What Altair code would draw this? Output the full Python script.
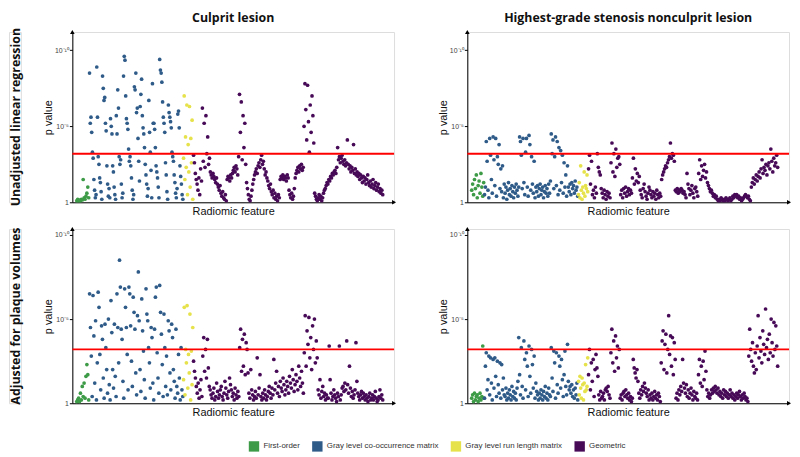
import altair as alt
import pandas as pd

CATS = ["First-order", "Gray level co-occurrence matrix",
        "Gray level run length matrix", "Geometric"]
COLORS = ["#3d9b47", "#2f5b89", "#e6e24b", "#470a57"]
# feature-index span of each category (shared by all panels)
SPANS = [(0, 13), (13, 108), (108, 118), (118, 310)]
THRESHOLD = 3.2          # -log10(p) of the significance line
XMIN, XMAX = -4, 321

COL_TITLES = ["Culprit lesion", "Highest-grade stenosis nonculprit lesion"]
ROW_TITLES = ["Unadjusted linear regression", "Adjusted for plaque volumes"]
Y_TICKS = [0, 5, 10]

# ---------------- values: -log10(p) ----------------
# Culprit lesion, unadjusted
tl_first = [0.1, 0.2, 0.1, 0.15, 0.1, 0.2, 0.15, 1.5, 0.3, 0.2, 0.4, 0.6, 1.0, 0.3]
tl_glcm = [8.5, 5.2, 5.6, 4.6, 3.3, 2.9, 1.5, 0.8, 0.3, 0.5, 8.9,
           5.6, 3.0, 2.5, 1.6, 1.3, 0.7, 0.2, 8.3, 7.5, 6.7, 6.9, 5.2, 4.7, 2.4, 1.2, 0.4, 0.9, 0.3,
           5.5, 5.0, 4.5, 2.4, 2.0, 1.0, 0.5, 0.2, 5.7, 4.5, 7.4, 6.2, 3.0, 2.5, 2.8, 1.2, 0.3, 0.6,
           8.3, 9.6, 9.35, 7.0, 5.5, 5.2, 4.8, 3.5, 2.7, 3.0, 2.4, 1.6, 0.8, 0.2, 0.5, 7.6, 7.4, 8.5, 5.9, 6.2, 4.2, 2.7, 1.4,
           6.3, 7.1, 8.1, 5.7, 4.9, 4.5, 3.6, 2.5, 1.8, 1.2, 0.4, 0.9, 6.7, 4.6, 3.3, 2.1, 0.3, 7.8, 5.2,
           5.2, 4.8, 3.6, 2.4, 2.0, 1.6, 1.0, 0.3, 9.4, 8.7, 8.5, 7.9, 6.6, 5.6, 5.2, 4.6, 2.6, 1.8, 0.7, 0.2, 6.4,
           5.9, 5.6, 5.3, 4.9, 3.3, 3.0, 2.7, 1.8, 1.3, 0.6, 0.3, 0.9, 5.8, 6.0, 4.9, 2.4, 1.7, 1.2, 0.5, 0.2]
tl_glrlm = [2.9, 7.0, 1.5, 4.3, 2.3, 6.4, 0.5, 3.8, 2.0, 6.3, 1.0, 4.2, 2.6, 5.4, 0.2]
tl_geom = [3.1, 2.6, 1.9, 1.5, 1.2, 0.8, 1.6, 0.5, 2.2, 1.4,
           6.2, 2.7, 5.2, 2.3, 5.7, 3.2, 4.3, 2.5, 2.9,
           2.0, 1.8, 1.6, 1.9, 1.7, 1.5, 1.3, 1.6, 1.2, 1.0, 0.8, 1.1, 0.6, 0.4, 0.7, 0.3, 0.2, 0.5, 0.1,
           1.5, 1.7, 1.6, 1.4, 1.8, 1.6, 1.9, 2.1, 2.3, 2.0, 2.4, 2.2, 1.8,
           3.0, 7.1, 4.6, 6.6, 2.8, 5.7, 3.6, 5.2, 2.5,
           1.3, 0.9, 0.5, 0.2, 0.1, 0.4, 0.8, 1.2, 1.5, 1.8,
           2.0, 2.2, 1.9, 2.4, 2.6, 2.3, 2.8, 3.1, 2.5, 2.7, 2.2, 1.8, 2.0, 1.6,
           1.4, 1.1, 0.9, 1.2, 0.7, 0.5, 0.8, 0.3, 0.6, 0.2, 0.4, 0.1, 0.5, 0.3,
           1.5, 1.7, 1.6, 1.8, 1.5, 1.7, 1.6, 1.4, 1.8, 1.6,
           0.8, 0.5, 0.3, 0.6, 0.2, 0.4, 0.9,
           1.6, 1.9, 2.1, 2.3, 2.0, 2.4, 2.2, 2.5, 2.1, 2.3,
           5.0, 7.8, 6.1, 4.1, 7.7, 5.3, 3.3, 6.4, 4.6, 7.0, 5.7, 3.9,
           0.6, 0.4, 0.2, 0.1, 0.3, 0.5, 0.2, 0.4, 0.1, 0.3, 0.6, 0.8,
           0.9, 1.1, 1.3, 1.2, 1.5, 1.4, 1.7, 1.6, 1.9, 1.8, 2.0, 2.1, 1.9, 2.3,
           3.6, 2.8, 3.0, 2.6, 2.9, 3.1, 2.7, 2.5, 2.8, 2.4, 2.6,
           4.1, 2.5, 2.2, 2.4, 2.0, 2.3, 2.1, 3.8, 1.9, 2.2, 1.8,
           2.0, 1.7, 1.9, 1.5, 1.8, 1.6, 1.3, 1.7, 1.4, 1.6, 1.2, 1.5, 1.8, 1.3, 1.1,
           1.4, 1.0, 1.2, 1.5, 0.9, 1.1, 1.3, 0.8, 1.0, 1.2, 0.7, 0.9, 0.6, 0.8, 0.5]

# Nonculprit lesion, unadjusted
tr_first = [0.8, 1.2, 0.5, 1.5, 0.9, 1.8, 0.3, 1.1, 1.4, 0.6, 1.9, 1.0, 0.4, 1.3]
tr_glcm = [0.5, 1.0, 4.0, 2.7, 0.8, 0.3, 4.2, 3.1, 1.5, 0.6, 4.3, 2.8, 1.1, 4.2, 0.4, 3.0,
           2.5, 3.8, 0.9, 2.2, 0.7, 2.4, 0.3, 1.2, 0.6, 1.0, 0.2, 0.8, 1.3, 0.5, 0.9, 0.4, 1.1, 0.7,
           0.3, 1.0, 0.6, 1.2, 0.8, 0.4, 1.0,
           4.3, 4.0, 3.1, 0.9, 4.2, 1.3, 0.5, 3.3, 4.2, 1.0, 0.4, 4.4, 3.8, 0.8, 3.0, 1.2, 0.6, 2.7, 0.3, 1.0,
           0.7, 1.1, 0.4, 0.9, 1.2, 0.5, 0.8, 1.0, 0.3, 0.7, 1.1, 0.6, 0.9, 0.4, 1.2, 0.6, 1.4,
           4.5, 3.2, 4.1, 0.9, 3.0, 4.3, 1.1, 4.0, 0.5, 3.6, 0.8, 3.4, 1.3, 3.1, 0.6, 2.6, 1.0, 1.8, 0.4, 2.4,
           1.0, 0.7, 1.2, 0.5, 1.3, 0.9, 1.1, 0.6, 1.4, 0.8, 1.0, 0.4]
tr_glrlm = [0.5, 1.3, 0.3, 2.4, 0.8, 0.2, 1.0, 0.6, 2.0, 0.4, 1.1, 0.9, 1.8, 0.7]
tr_geom = [2.2, 3.1, 1.2, 2.7, 0.5, 0.8, 0.3, 1.0, 0.6,
           3.2, 2.3, 2.0, 1.8, 0.9, 0.6, 0.3, 0.8, 0.5, 0.2, 0.7, 0.4, 0.6, 0.3,
           2.6, 3.9, 2.0, 3.2, 1.7, 3.5, 2.3, 2.9, 3.0, 2.5,
           0.5, 0.8, 0.3, 0.9, 0.6, 1.0, 0.4, 0.7, 0.9, 0.5, 0.8, 0.6,
           1.6, 2.9, 1.2, 2.2, 1.4, 1.9, 1.3, 1.7,
           0.8, 0.5, 0.3, 0.9, 1.2, 0.7, 0.4, 0.2, 0.6, 1.0, 0.8, 0.5, 0.3, 0.7, 0.4, 0.6, 0.2, 0.8,
           0.5, 0.3, 0.6, 0.4,
           1.5, 1.8, 2.0, 2.2, 2.4, 2.3, 2.6, 2.8, 3.0, 3.9, 2.9, 3.2, 3.1, 2.7,
           0.8, 0.7, 0.9, 0.6, 0.8, 0.7, 0.9, 0.8, 0.6, 0.7, 0.5, 0.3,
           1.9, 1.2, 0.9, 0.5, 0.8, 1.1, 0.6, 0.3, 0.9, 1.0, 0.7, 0.4,
           1.9, 2.8, 1.5, 2.4, 1.7, 2.1, 2.5, 1.6, 2.0,
           1.3, 1.1, 0.9, 0.7, 0.8, 0.6, 0.4, 0.5, 0.3, 0.4, 0.2,
           0.1, 0.2, 0.1, 0.3, 0.2, 0.1, 0.2, 0.1, 0.3, 0.2, 0.1, 0.2, 0.3, 0.1, 0.2, 0.4, 0.3,
           0.5, 0.4, 0.5, 0.3, 0.4, 0.2, 0.3, 0.1, 0.2, 0.3, 0.4, 0.5, 0.4, 0.3, 0.4, 0.2, 0.1,
           1.0, 1.3, 1.6, 1.2, 1.5, 1.8, 1.4, 1.7, 2.0, 1.6, 2.2, 2.8, 1.9, 2.3, 2.1, 2.5,
           1.8, 2.4, 2.6, 2.2, 3.5, 2.7, 2.0, 2.9, 2.4, 2.6, 3.1, 2.3]

# Culprit lesion, adjusted
bl_first = [0.1, 0.2, 0.3, 0.1, 0.6, 0.2, 1.0, 0.4, 1.2, 0.3, 1.6, 2.3, 1.7, 0.2]
bl_glcm = [6.5, 4.5, 2.8, 0.4, 6.4, 4.0, 1.2, 4.9, 0.2, 2.4, 6.6, 5.7, 2.9, 0.8, 4.6, 3.8, 1.5, 0.3,
           4.7, 3.3, 2.0, 0.6, 5.0, 1.1, 0.2, 6.1, 4.2, 2.0, 0.9, 4.7, 1.6, 0.4, 6.5, 4.5, 2.4, 8.5,
           6.9, 4.4, 3.8, 1.3, 0.3, 6.8, 5.7, 4.5, 2.9, 0.8, 6.9, 6.5, 4.6, 2.5, 1.0, 6.3, 5.4, 4.4,
           1.8, 0.5,
           5.2, 7.8, 4.9, 2.0, 0.7, 6.2, 4.3, 3.1, 1.4, 0.3, 6.8, 5.3, 4.9, 3.3, 2.4, 0.9, 4.5, 3.9,
           1.2, 0.2,
           4.4, 6.3, 6.9, 3.0, 1.5, 0.6, 7.0, 5.4, 4.1, 2.3, 0.4, 5.3, 3.3, 1.0, 2.8, 0.5, 4.9, 4.3,
           1.8, 0.8,
           4.7, 3.9, 2.0, 1.3, 0.3, 4.4, 1.0, 0.6, 2.9, 1.5, 0.2, 3.3, 0.8, 0.4]
bl_glrlm = [1.4, 5.7, 0.5, 3.2, 2.4, 5.8, 0.9, 2.9, 1.8, 5.3, 0.2, 3.1, 1.1, 4.5]
bl_geom = [2.5, 1.9, 1.5, 1.0, 0.6, 1.2, 0.3, 0.8, 1.4, 0.4,
           2.8, 3.9, 1.9, 3.2, 1.5, 3.8, 2.1,
           1.0, 0.8, 0.5, 0.3, 0.6, 0.9, 0.2, 0.4, 1.2, 0.7, 0.3, 0.5, 0.8, 1.0, 0.4, 0.2, 0.6,
           1.3, 0.9, 0.5, 0.3, 0.7, 1.5, 1.1, 0.8, 0.4, 0.6, 0.2, 0.9, 0.5, 0.3, 0.7, 0.4,
           3.3, 4.4, 1.9, 3.8, 2.2, 4.1, 1.7, 3.6, 3.2,
           1.8, 0.6, 0.3, 2.0, 0.8, 0.5, 0.2, 0.4, 0.7, 0.3, 2.7, 0.5, 0.9, 1.7, 0.4, 0.2, 0.6,
           0.3, 0.8, 0.5, 0.2, 0.4, 0.7, 1.0, 0.6, 0.3, 0.9, 0.5,
           2.6, 0.8, 1.2, 1.9, 0.6, 1.0, 0.4, 1.3, 0.9, 0.7, 1.5, 1.1, 0.5, 0.8, 1.3, 1.0, 0.6,
           1.6, 1.2, 0.9, 2.0, 1.4, 0.7, 1.1, 1.7, 1.3, 0.8, 2.2, 1.5, 1.0, 1.9, 1.2, 0.6,
           3.0, 5.2, 2.2, 4.3, 3.5, 5.1, 2.7, 3.9, 2.0, 4.6, 3.2, 5.0, 2.4, 3.7,
           2.7, 0.8, 0.5, 1.4, 0.3, 0.7, 1.0, 0.4, 0.6, 0.2, 0.5, 0.3,
           0.3, 3.4, 1.4, 0.6, 0.2, 0.4, 0.8, 0.5, 0.3, 0.1, 0.6, 0.4, 3.4, 0.2, 0.5, 0.9, 1.0,
           0.7, 1.2, 0.8, 3.7, 1.1, 0.6, 2.2, 0.9, 0.4, 0.7, 0.3, 0.5, 0.8, 3.6, 1.3, 0.6, 0.4,
           0.2, 0.5, 0.7, 0.3, 0.6, 0.4, 0.2, 0.5, 0.3, 0.1, 0.4, 0.6, 0.2, 0.3, 0.5, 0.2, 0.4,
           0.7, 0.3, 0.1, 0.2, 0.4, 0.8, 0.3, 0.5, 0.2]

# Nonculprit lesion, adjusted
br_first = [0.3, 0.5, 0.1, 0.6, 0.2, 0.4, 0.5, 0.1, 0.3, 0.6, 0.2, 0.4, 3.4, 0.3]
br_glcm = [0.3, 2.2, 3.0, 0.8, 1.4, 2.8, 0.5, 2.7, 1.2, 0.2, 2.6, 0.9, 2.7, 1.6, 0.4, 2.5, 1.1,
           0.6, 2.4, 0.3, 2.3, 0.8, 1.5, 0.5,
           0.4, 0.9, 0.2, 0.6, 0.3, 0.8, 0.5, 0.2, 1.0, 0.4, 0.7, 0.3, 0.6, 0.2, 0.9, 1.3,
           3.9, 1.7, 0.5, 3.3, 1.0, 0.3, 3.7, 2.6, 0.8, 3.0, 2.2, 0.4, 3.4, 1.6, 0.6, 3.2, 2.3,
           0.9, 2.8, 0.3, 1.2, 0.7, 0.5, 0.2,
           0.6, 0.3, 0.8, 0.5, 0.2, 0.7, 0.4, 1.0, 0.3, 0.6, 0.2, 0.9, 0.5, 0.4,
           3.3, 1.5, 0.7, 3.1, 2.4, 0.3, 3.0, 1.1, 0.6, 2.8, 2.2, 0.9, 2.6, 1.4, 0.4, 1.7, 3.1,
           1.0, 0.5, 3.5, 1.3, 0.8,
           1.0, 0.6, 1.1, 0.4, 0.8, 0.3, 0.9, 0.5, 1.2, 0.2]
br_glrlm = [1.3, 0.5, 1.6, 0.9, 0.3, 1.5, 1.1, 0.2, 1.2, 0.7, 2.3, 0.8, 1.0, 2.7]
br_geom = [1.7, 3.2, 0.8, 2.4, 1.3, 2.6, 0.4, 2.0, 2.9, 2.1, 1.6, 0.5, 0.2, 0.7, 0.3,
           0.4, 0.6, 0.2, 0.8, 0.9, 0.7, 1.0, 0.5, 0.3,
           3.0, 4.4, 2.4, 3.7, 1.9, 4.0, 2.7, 3.4, 2.1, 3.2,
           0.3, 0.5, 0.2, 0.6, 0.7, 0.4, 0.8, 0.5, 0.3, 0.6, 0.2, 0.4, 0.1, 0.3,
           2.6, 2.1, 1.8, 1.5, 2.0, 1.3,
           0.6, 0.3, 0.8, 0.5, 1.0, 0.7, 1.2, 0.9, 0.6, 0.4, 0.8, 0.2, 0.5, 0.3, 0.6, 0.2, 0.4,
           0.7, 0.3, 0.5, 0.2, 0.6, 0.4, 0.1,
           2.4, 3.7, 4.3, 2.0, 3.5, 4.1, 1.8, 3.2, 5.2, 2.9, 4.0, 2.2, 3.9, 1.7, 3.6, 2.6,
           0.3, 0.6, 0.2, 0.8, 0.5, 1.0, 0.7, 2.6, 1.2, 0.9, 0.6, 1.1, 0.4, 0.8, 0.3, 0.6, 0.9,
           0.5, 0.2, 0.7, 0.4, 0.3, 0.6, 0.2,
           1.7, 2.6, 1.2, 2.2, 1.0, 2.5, 1.4, 3.1, 1.9, 0.8,
           0.4, 0.6, 0.3, 0.5, 0.8, 0.6, 0.9, 0.7, 1.0, 0.8, 0.6, 0.9, 0.5, 0.7, 0.4, 0.6, 0.3,
           0.8, 0.5, 0.7, 0.4, 0.6, 0.3, 0.5, 0.8, 0.4, 0.6, 0.3, 0.5, 0.2, 0.4, 0.6, 0.3, 0.5,
           0.7, 0.4, 0.2, 0.5, 0.3, 0.6, 0.4, 0.2, 0.3, 0.1,
           2.8, 4.4, 3.2, 2.5, 3.6, 2.2, 1.8, 3.0, 2.0, 3.4, 5.2, 2.7, 3.9, 3.1, 2.4, 4.3, 3.5,
           2.9, 5.6, 3.3, 3.8, 2.6, 4.1, 3.0, 5.0, 3.6, 2.8, 4.8, 3.2, 4.6, 3.4, 2.2]


def frame(lists):
    rows = []
    for cat, (a, b), vals in zip(CATS, SPANS, lists):
        n = len(vals)
        for k, v in enumerate(vals):
            rows.append({"feature": a + (k + 0.5) * (b - a) / n, "logp": v, "group": cat})
    return pd.DataFrame(rows)


LABEL_EXPR = ("datum.value == 0 ? '1' : datum.value == 5 ? '10\u207b\u2075' : "
              "'10\u207b\u00b9\u2070'")


def panel(lists, ymax, height, title=None, legend=False):
    df = frame(lists)
    xenc = alt.X("feature:Q",
                 scale=alt.Scale(domain=[XMIN, XMAX], nice=False, zero=False),
                 axis=alt.Axis(title="Radiomic feature", labels=False, ticks=False,
                               grid=False, domainColor="black", titleFontSize=11,
                               titleFontWeight="normal", titlePadding=3,
                               minExtent=0, maxExtent=0, titleColor="#111"))
    yenc = alt.Y("logp:Q",
                 scale=alt.Scale(domain=[0, ymax], nice=False, zero=False),
                 axis=alt.Axis(title="p value", values=Y_TICKS, labelExpr=LABEL_EXPR,
                               grid=False, tickSize=3, tickColor="black",
                               domainColor="black", labelFontSize=7, labelColor="#444",
                               labelPadding=1, titleFontSize=11, titleFontWeight="normal",
                               titlePadding=3, minExtent=16, maxExtent=16,
                               titleColor="#111"))
    if legend:
        leg = alt.Legend(title=None, orient="none", legendX=242, legendY=413,
                         direction="horizontal", symbolType="square", symbolSize=110,
                         symbolStrokeWidth=0, labelFontSize=8, labelColor="#333",
                         labelOffset=4, columnPadding=12, labelFont="Liberation Sans")
    else:
        leg = None
    pts = alt.Chart(df).mark_circle(size=14, opacity=1).encode(
        x=xenc, y=yenc,
        color=alt.Color("group:N", scale=alt.Scale(domain=CATS, range=COLORS), legend=leg),
    )
    rule = alt.Chart(pd.DataFrame({"logp": [THRESHOLD]})).mark_rule(
        color="#ff0000", strokeWidth=2).encode(y="logp:Q")
    arrows = alt.Chart(pd.DataFrame({
        "feature": [XMAX, XMIN], "logp": [0, ymax],
        "shape": ["triangle-right", "triangle-up"]})).mark_point(
        filled=True, color="black", size=22, opacity=1).encode(
        x="feature:Q", y="logp:Q", shape=alt.Shape("shape:N", scale=None))
    ch = alt.layer(pts, rule, arrows).properties(width=325, height=height)
    if title:
        ch = ch.properties(title=alt.TitleParams(title, fontSize=12.5, fontWeight="bold",
                                                 font="Open Sans", offset=6,
                                                 anchor="middle", color="#111"))
    return ch


def row_label(text, height):
    return alt.Chart(pd.DataFrame({"t": [text]})).mark_text(
        angle=270, fontSize=12.5, fontWeight="bold", font="Open Sans", color="#111",
        baseline="middle", align="center"
    ).encode(text="t:N", x=alt.value(7), y=alt.value(height / 2)).properties(
        width=12, height=height)


H1, H2 = 172, 176
tl = panel([tl_first, tl_glcm, tl_glrlm, tl_geom], 11.2, H1, COL_TITLES[0], legend=True)
tr = panel([tr_first, tr_glcm, tr_glrlm, tr_geom], 11.2, H1, COL_TITLES[1])
bl = panel([bl_first, bl_glcm, bl_glrlm, bl_geom], 10.35, H2)
br = panel([br_first, br_glcm, br_glrlm, br_geom], 10.35, H2)

row1 = alt.hconcat(row_label(ROW_TITLES[0], H1), alt.hconcat(tl, tr, spacing=40), spacing=18)
row2 = alt.hconcat(row_label(ROW_TITLES[1], H2), alt.hconcat(bl, br, spacing=40), spacing=18)

chart = alt.vconcat(row1, row2, spacing=9).properties(padding=0).configure_view(
    stroke=None).configure(font="Liberation Sans")

chart.save("out.html", embed_options={"renderer": "svg", "actions": False})
